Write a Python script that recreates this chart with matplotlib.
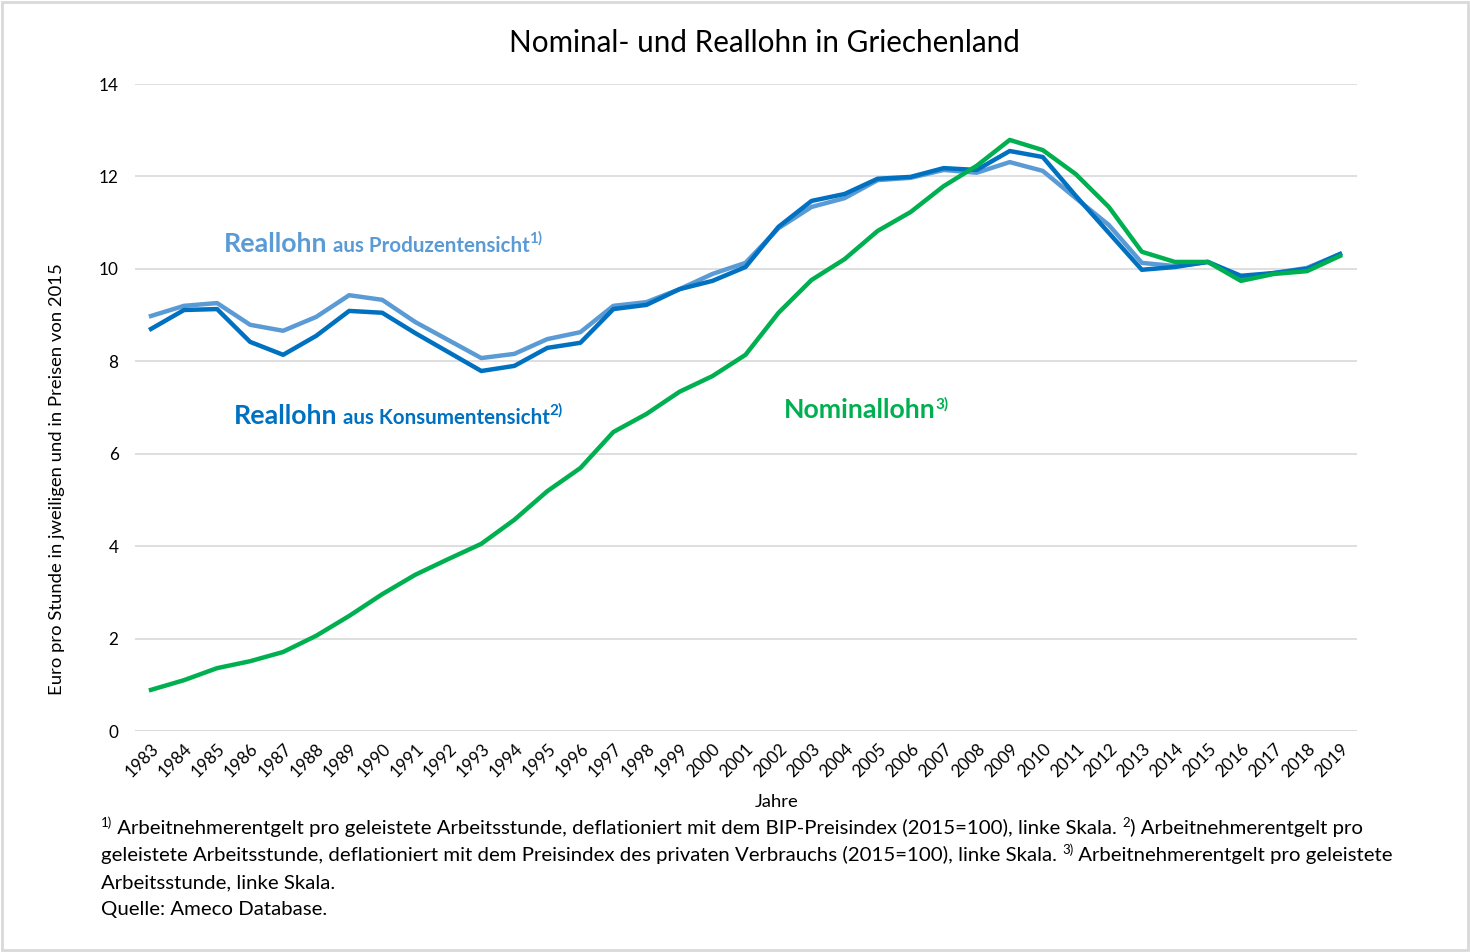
"""Nominal- und Reallohn in Griechenland (Ameco), Nachbau des Excel-Diagramms."""
import matplotlib
matplotlib.use("Agg")
import matplotlib.pyplot as plt
from matplotlib.patches import Rectangle
from matplotlib.transforms import offset_copy

# ---------------------------------------------------------------------------
# Daten
# ---------------------------------------------------------------------------
YEARS = list(range(1983, 2020))

REAL_PRODUZENT = [
    8.98, 9.20, 9.26, 8.79, 8.66, 8.96, 9.43, 9.33, 8.85, 8.46,
    8.07, 8.16, 8.48, 8.63, 9.20, 9.28, 9.56, 9.89, 10.13, 10.88,
    11.34, 11.53, 11.92, 11.97, 12.14, 12.08, 12.31, 12.12, 11.53, 10.95,
    10.13, 10.06, 10.15, 9.80, 9.91, 10.02, 10.32,
]
REAL_KONSUMENT = [
    8.70, 9.11, 9.13, 8.42, 8.14, 8.55, 9.09, 9.05, 8.61, 8.20,
    7.79, 7.90, 8.29, 8.40, 9.13, 9.22, 9.56, 9.74, 10.04, 10.91,
    11.47, 11.62, 11.95, 11.99, 12.18, 12.14, 12.55, 12.42, 11.58, 10.78,
    9.98, 10.04, 10.15, 9.85, 9.91, 10.00, 10.32,
]
NOMINAL = [
    0.89, 1.10, 1.36, 1.51, 1.71, 2.06, 2.49, 2.96, 3.38, 3.72,
    4.05, 4.57, 5.19, 5.69, 6.47, 6.86, 7.34, 7.68, 8.14, 9.05,
    9.76, 10.21, 10.82, 11.23, 11.79, 12.23, 12.79, 12.57, 12.05, 11.34,
    10.37, 10.15, 10.15, 9.74, 9.89, 9.95, 10.28,
]
Y_TICKS = [0, 2, 4, 6, 8, 10, 12, 14]

LIGHT = "#5B9BD5"
DARK = "#0070C0"
GREEN = "#00B050"
FONT = ["Lato", "DejaVu Sans"]

plt.rcParams["font.family"] = FONT

W, H = 1470, 952
fig = plt.figure(figsize=(W / 100, H / 100), dpi=100)
renderer = fig.canvas.get_renderer()


def px(x, y):
    return x / W, 1 - y / H


def rich(x, y, runs):
    """Text pieces laid out one after another on a common baseline (pixels)."""
    dx = 0.0
    fx, fy = px(x, y)
    for txt, size, weight, color, rise in runs:
        tr = offset_copy(fig.transFigure, fig=fig, x=dx, y=rise, units="dots")
        t = fig.text(fx, fy, txt, transform=tr, fontsize=size, fontweight=weight,
                     color=color, ha="left", va="baseline")
        dx += t.get_window_extent(renderer).width


# frame
fig.patches.append(Rectangle((0.0015, 0.002), 0.997, 0.996, transform=fig.transFigure,
                             fill=False, edgecolor="#d9d9d9", linewidth=2))

ax = fig.add_axes([134.5 / W, 1 - 731 / H, (1356.5 - 134.5) / W, (731 - 84) / H])
ax.plot(YEARS, REAL_PRODUZENT, color=LIGHT, lw=3.2, solid_joinstyle="round", zorder=3)
ax.plot(YEARS, REAL_KONSUMENT, color=DARK, lw=3.2, solid_joinstyle="round", zorder=4)
ax.plot(YEARS, NOMINAL, color=GREEN, lw=3.2, solid_joinstyle="round", zorder=5)

ax.set_xlim(YEARS[0] - 0.5, YEARS[-1] + 0.5)
ax.set_ylim(0, 14)
ax.set_yticks(Y_TICKS)
ax.set_xticks(YEARS)
ax.set_xticklabels([str(y) for y in YEARS], rotation=45, ha="right",
                   rotation_mode="anchor", fontsize=12.3)
ax.tick_params(axis="y", labelsize=12.3, length=0, pad=11.5)
ax.tick_params(axis="x", length=0, pad=7)
ax.grid(axis="y", color="#d9d9d9", lw=1.2)
ax.set_axisbelow(True)
for s in ax.spines.values():
    s.set_visible(False)
ax.axhline(0, color="#d9d9d9", lw=1.2, zorder=1)

fig.text(*px(764, 52), "Nominal- und Reallohn in Griechenland", fontsize=21.3,
         ha="center", va="baseline")
fig.text(*px(57, 479), "Euro pro Stunde in jweiligen und in Preisen von 2015",
         fontsize=13.3, rotation=90, ha="center", va="center")
fig.text(*px(777, 802), "Jahre", fontsize=13.3, ha="center", va="center")

# series labels
BIG, MID, SUPL = 19.3, 14.8, 11
rich(224, 252, [("Reallohn", BIG, "bold", LIGHT, 0),
                (" aus Produzentensicht", MID, "bold", LIGHT, 0),
                ("1)", SUPL, "bold", LIGHT, 9)])
rich(234, 424, [("Reallohn", BIG, "bold", DARK, 0),
                (" aus Konsumentensicht", MID, "bold", DARK, 0),
                ("2)", SUPL, "bold", DARK, 9)])
rich(784, 418, [("Nominallohn", BIG, "bold", GREEN, 0),
                ("3)", SUPL, "bold", GREEN, 9)])

# footnotes
FS, SUP = 14.7, 9.5
rich(101, 834, [("1)", SUP, "normal", "black", 7),
                (" Arbeitnehmerentgelt pro geleistete Arbeitsstunde, deflationiert mit dem "
                 "BIP-Preisindex (2015=100), linke Skala. ", FS, "normal", "black", 0),
                ("2", SUP, "normal", "black", 7),
                (") Arbeitnehmerentgelt pro", FS, "normal", "black", 0)])
rich(101, 861, [("geleistete Arbeitsstunde, deflationiert mit dem Preisindex des privaten "
                 "Verbrauchs (2015=100), linke Skala. ", FS, "normal", "black", 0),
                ("3)", SUP, "normal", "black", 7),
                (" Arbeitnehmerentgelt pro geleistete", FS, "normal", "black", 0)])
rich(101, 888, [("Arbeitsstunde, linke Skala.", FS, "normal", "black", 0)])
rich(101, 915, [("Quelle: Ameco Database.", FS, "normal", "black", 0)])

fig.savefig("out.png", dpi=100)
